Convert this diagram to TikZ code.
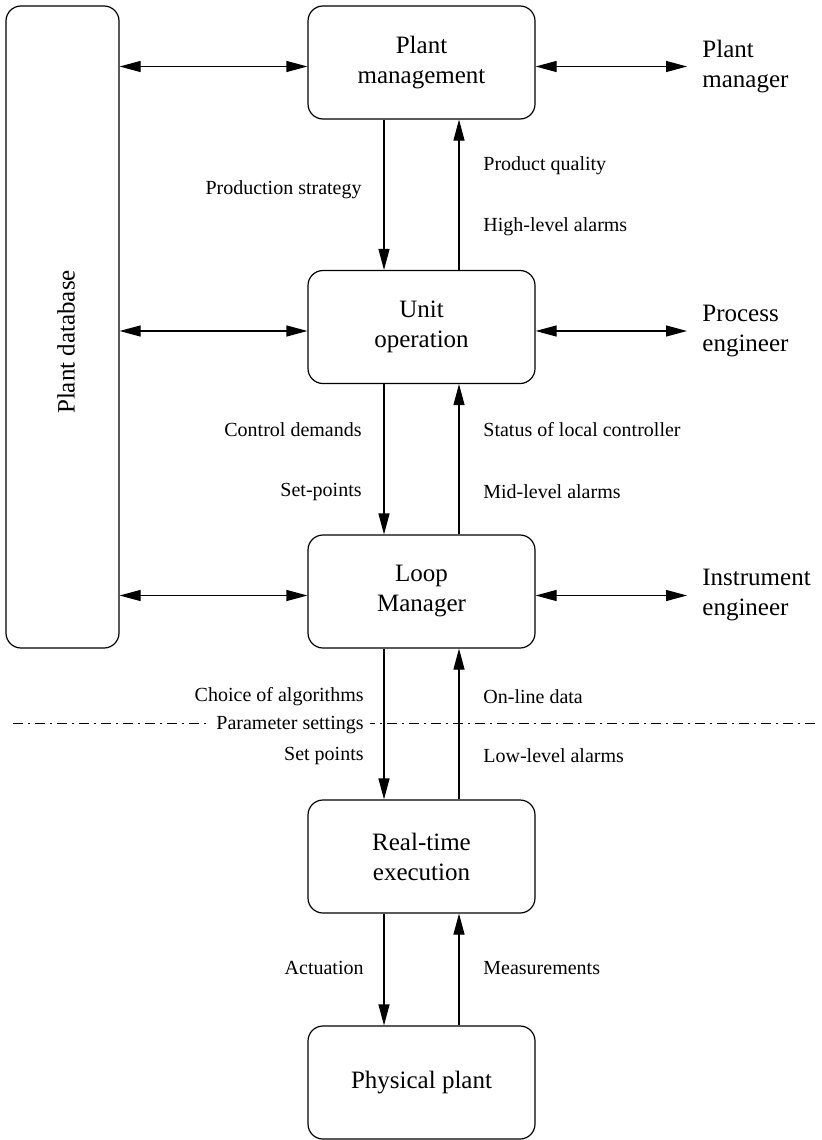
\documentclass[tikz,border=0pt]{standalone}
\usepackage{fontspec}
\setmainfont{Liberation Serif}
\usetikzlibrary{arrows.meta,calc}

\begin{document}
\begin{tikzpicture}[x=0.5pt,y=-0.5pt,
  block/.style={draw,line width=0.6pt,rounded corners=7.5pt,minimum width=113.5pt,minimum height=56.5pt,align=center,inner sep=0pt,font=\fontsize{12.5}{15}\selectfont},
  agent/.style={anchor=west,align=left,inner sep=0pt,font=\fontsize{12.5}{15}\selectfont},
  lab/.style={inner sep=0pt,font=\fontsize{10}{12}\selectfont},
  flow/.style={line width=0.6pt,-{Triangle[length=10.5pt,width=5.5pt]}},
  biflow/.style={line width=0.6pt,{Triangle[length=10.5pt,width=5.5pt]}-{Triangle[length=10.5pt,width=5.5pt]}}]
\useasboundingbox (0,0) rectangle (822,1140);

% database on the left
\node[block,minimum width=56.5pt,minimum height=321pt] (db) at (62.5,327) {};
\node[rotate=90,inner sep=0pt,font=\fontsize{12.5}{15}\selectfont] (dbtext) at ($(db.center)+(3.5,15)$) {Plant database};

% hierarchy
\node[block] (pm) at (421.5,62.5) {Plant\\management};
\node[block] (uo) at (421.5,327) {Unit\\operation};
\node[block] (lm) at (421.5,591.5) {Loop\\Manager};
\node[block] (rt) at (421.5,856.5) {Real-time\\execution};
\node[block] (pp) at (421.5,1082.5) {Physical plant};

\node[agent] (pmgr) at (702,66.5) {Plant\\manager};
\node[agent] (peng) at (702,331) {Process\\engineer};
\node[agent] (ieng) at (702,595.5) {Instrument\\engineer};

% dash-dot separator
\draw[line width=0.5pt,dash pattern=on 5pt off 2.5pt on 1pt off 2.5pt] (13,723) coordinate (sepl) -- (818,723) coordinate (sepr);

\foreach \b/\a in {pm/pmgr,uo/peng,lm/ieng}{
  \draw[biflow] ([yshift=-2pt]\b.west -| db.east) -- ([yshift=-2pt]\b.west);
  \draw[biflow] ([yshift=-2pt]\b.east) -- ([xshift=-7.5pt]\a.west);
}

\foreach \u/\d in {pm/uo,uo/lm,lm/rt,rt/pp}{
  \draw[flow] ([xshift=-18.75pt]\u.south) -- ([xshift=-18.75pt]\d.north);
  \draw[flow] ([xshift=18.75pt]\d.north) -- ([xshift=18.75pt]\u.south);
}

% labels
\node[lab,anchor=east] (ps) at (362,190) {Production strategy};
\node[lab,anchor=west] (pq) at (483,166) {Product quality};
\node[lab,anchor=west] (ha) at (483,227) {High-level alarms};
\node[lab,anchor=east] (cd) at (362,430) {Control demands};
\node[lab,anchor=east] (sp) at (362,492) {Set-points};
\node[lab,anchor=west] (sl) at (483,430) {Status of local controller};
\node[lab,anchor=west] (ma) at (483,492) {Mid-level alarms};
\node[lab,anchor=east] (ca) at (364,697) {Choice of algorithms};
\node[lab,anchor=east,fill=white,inner xsep=3pt] (pa) at (370,725) {Parameter settings};
\node[lab,anchor=east] (st) at (364,756) {Set points};
\node[lab,anchor=west] (od) at (483,697) {On-line data};
\node[lab,anchor=west] (la) at (483,756) {Low-level alarms};
\node[lab,anchor=east] (ac) at (364,968) {Actuation};
\node[lab,anchor=west] (me) at (483,968) {Measurements};
\end{tikzpicture}
\end{document}
